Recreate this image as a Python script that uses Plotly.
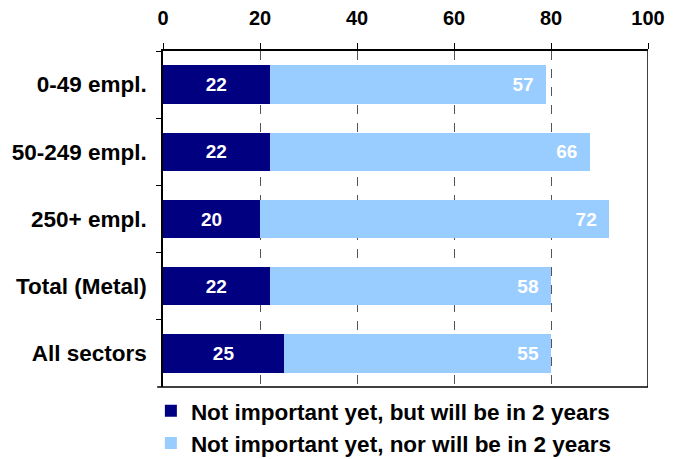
import plotly.graph_objects as go

categories = ["0-49 empl.", "50-249 empl.", "250+ empl.", "Total (Metal)", "All sectors"]
will_be_important = [22, 22, 20, 22, 25]
nor_will_be = [57, 66, 72, 58, 55]
series_names = ["Not important yet, but will be in 2 years",
                "Not important yet, nor will be in 2 years"]
x_ticks = [0, 20, 40, 60, 80, 100]

FONT = "Liberation Sans, Arial, sans-serif"
label_font = dict(family=FONT, size=19, color="white", weight="bold")

fig = go.Figure()
fig.add_trace(go.Bar(
    y=categories, x=will_be_important, orientation="h", name=series_names[0],
    marker=dict(color="#000080", line=dict(width=0)),
    text=will_be_important, texttemplate="%{x}", textposition="inside",
    insidetextanchor="middle", textfont=label_font, legendgroup="a",
))
fig.add_trace(go.Bar(
    y=categories, x=nor_will_be, orientation="h", name=series_names[1],
    marker=dict(color="#99CCFF", line=dict(width=0)),
    text=nor_will_be, texttemplate="%{x}\u2002", textposition="inside",
    insidetextanchor="end", textfont=label_font, legendgroup="b",
))

fig.update_layout(
    barmode="stack", bargap=0.43,
    width=674, height=459,
    margin=dict(l=163, r=26, t=51, b=72, autoexpand=False),
    paper_bgcolor="white", plot_bgcolor="white",
    font=dict(family=FONT, size=22, color="black", weight="bold"),
    showlegend=True,
    legend=dict(orientation="v", x=-0.025, xanchor="left", y=-0.008, yanchor="top",
                font=dict(family=FONT, size=22.5, color="black", weight="bold"),
                tracegroupgap=0, itemwidth=30, bgcolor="rgba(0,0,0,0)"),
    uniformtext=dict(mode=False),
)
fig.update_xaxes(
    side="top", range=[0, 100], tickvals=x_ticks, ticktext=[str(v) for v in x_ticks],
    tickfont=dict(family=FONT, size=20, color="black", weight="bold"),
    showline=True, linecolor="black", linewidth=1.5,
    ticks="outside", ticklen=6, tickcolor="black", tickwidth=1,
    ticklabelstandoff=10,
    showgrid=True, gridcolor="#555555", gridwidth=1, griddash="dash",
    zeroline=False, fixedrange=True,
)
fig.update_yaxes(
    categoryorder="array", categoryarray=categories, autorange="reversed",
    tickfont=dict(family=FONT, size=22.5, color="black", weight="bold"),
    showline=True, linecolor="black", linewidth=1.5,
    ticks="outside", ticklen=5, tickcolor="black", tickson="boundaries",
    ticklabelstandoff=10, showgrid=False, zeroline=False,
)
# bottom and right frame lines
fig.add_shape(type="line", xref="paper", yref="paper", x0=-0.012, x1=1, y0=0, y1=0,
              line=dict(color="black", width=1.5))
fig.add_shape(type="line", xref="x", yref="paper", x0=100, x1=100, y0=0, y1=1,
              line=dict(color="black", width=1.5))

fig.write_html("out.html")
